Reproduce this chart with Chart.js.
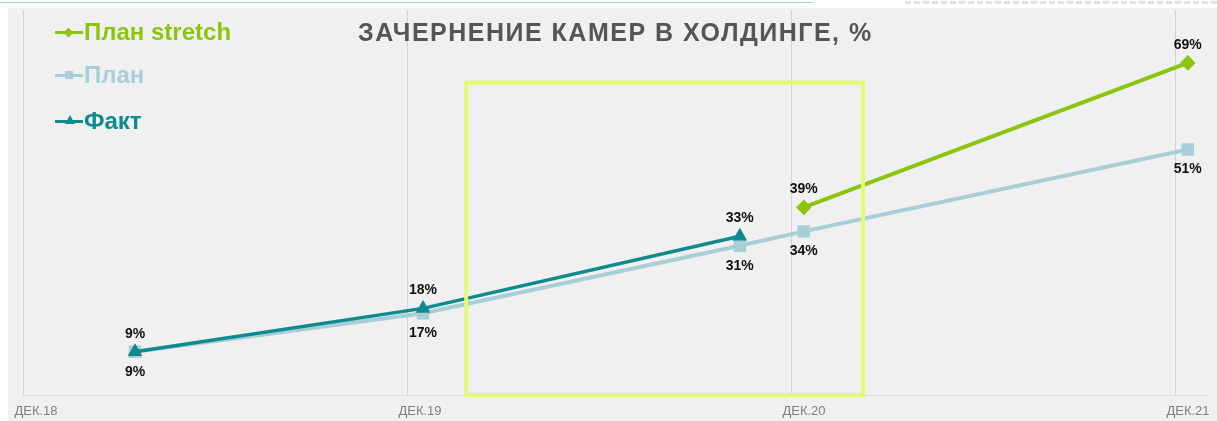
<!DOCTYPE html>
<html>
<head>
<meta charset="utf-8">
<script src="https://cdn.jsdelivr.net/npm/chart.js@4/dist/chart.umd.min.js"></script>
<style>
  html, body { margin: 0; padding: 0; background: #fff; }
  #wrap { position: relative; width: 1217px; height: 421px; overflow: hidden; font-family: "Liberation Sans", Arial, sans-serif; }
  #bg { position: absolute; left: 8px; top: 8px; right: 0; bottom: 0; background: #f0f0f0; }
  #topline { position: absolute; left: 0; top: 2px; width: 813px; height: 1px; background: #9fd2d6; }
  #topdash { position: absolute; left: 905px; top: 1px; width: 312px; height: 0; border-top: 3px dashed #e2e2e2; }
  canvas { position: absolute; left: 0; top: 0; }
  #title { position: absolute; left: 358px; top: 18px; font-weight: bold; font-size: 25px; letter-spacing: 1.5px; color: #555; white-space: nowrap; }
  .item { position: absolute; left: 55px; height: 30px; display: flex; align-items: center; font-weight: bold; font-size: 24px; white-space: nowrap; }
  .sw { position: relative; width: 28px; height: 3px; margin-right: 1px; }
  .sw i { position: absolute; left: 10px; top: -3px; width: 8px; height: 8px; }
</style>
</head>
<body>
<div id="wrap">
  <div id="bg"></div>
  <div id="topline"></div>
  <div id="topdash"></div>
  <canvas id="lineChart" width="1217" height="421"></canvas>
  <div id="title">ЗАЧЕРНЕНИЕ КАМЕР В ХОЛДИНГЕ, %</div>
  <div id="legend"></div>
</div>
<script>
// months counted from Dec 2018
let tickMonths = [0, 12, 24, 36];
let tickLabels = ["ДЕК.18", "ДЕК.19", "ДЕК.20", "ДЕК.21"];

let stretchMonths = [24.4, 36.4];
let stretchValues = [39, 69];
let planMonths = [3.5, 12.5, 22.4, 24.4, 36.4];
let planValues = [9, 17, 31, 34, 51];
let factMonths = [3.5, 12.5, 22.4];
let factValues = [9, 18, 33];

let seriesNames = ["План stretch", "План", "Факт"];
let seriesColors = ["#8cc511", "#a8cfd7", "#0f8a8f"];

function toPoints(xs, ys) {
    return xs.map(function (x, i) {
        return { x: x, y: ys[i] };
    });
}

//legend in the top left corner
let legend = document.getElementById('legend');
let legendTops = [17, 60, 106];
let markerCss = [
    "transform: rotate(45deg); width:7px; height:7px; top:-2px;",
    "",
    "width:0; height:0; top:-5px; border-left:5px solid transparent; border-right:5px solid transparent; border-bottom:9px solid " + seriesColors[2] + "; background:none;"
];
seriesNames.forEach(function (name, i) {
    let div = document.createElement('div');
    div.className = 'item';
    div.style.top = legendTops[i] + 'px';
    div.style.color = seriesColors[i];
    div.innerHTML = '<span class="sw" style="background:' + seriesColors[i] + '"><i style="background:' +
        seriesColors[i] + ';' + markerCss[i] + '"></i></span>' + name;
    legend.appendChild(div);
});

//percent labels next to the points
const pointLabels = {
    id: 'pointLabels',
    afterDatasetsDraw(chart) {
        const c = chart.ctx;
        c.save();
        c.font = 'bold 14px "Liberation Sans", Arial, sans-serif';
        c.fillStyle = '#111';
        c.textAlign = 'center';
        c.textBaseline = 'middle';
        chart.data.datasets.forEach(function (ds, i) {
            const meta = chart.getDatasetMeta(i);
            meta.data.forEach(function (pt, j) {
                const dy = ds.labelSide === 'below' ? 20 : -18;
                c.fillText(ds.data[j].y + '%', pt.x, pt.y + dy);
            });
        });
        c.restore();
    }
};

//highlighted period frame
const frame = {
    id: 'frame',
    afterDatasetsDraw(chart, args, opts) {
        const xs = chart.scales.x, ys = chart.scales.y;
        const c = chart.ctx;
        c.save();
        c.strokeStyle = opts.color;
        c.lineWidth = 4;
        const l = xs.getPixelForValue(opts.xMin), r = xs.getPixelForValue(opts.xMax);
        const t = ys.getPixelForValue(opts.yMax), b = ys.getPixelForValue(opts.yMin);
        c.strokeRect(l, t, r - l, b - t);
        c.restore();
    }
};

let ctx = document.getElementById('lineChart').getContext('2d');

let data = {
    datasets: [
        {
            label: seriesNames[2],
            data: toPoints(factMonths, factValues),
            borderColor: seriesColors[2],
            backgroundColor: seriesColors[2],
            borderWidth: 3.5,
            pointStyle: 'triangle',
            pointRadius: 5,
            labelSide: 'above',
            order: 1
        },
        {
            label: seriesNames[0],
            data: toPoints(stretchMonths, stretchValues),
            borderColor: seriesColors[0],
            backgroundColor: seriesColors[0],
            borderWidth: 4,
            pointStyle: 'rectRot',
            pointRadius: 5,
            labelSide: 'above',
            order: 2
        },
        {
            label: seriesNames[1],
            data: toPoints(planMonths, planValues),
            borderColor: seriesColors[1],
            backgroundColor: seriesColors[1],
            borderWidth: 4,
            pointStyle: 'rect',
            pointRadius: 6,
            labelSide: 'below',
            order: 3
        }
    ]
};

let options = {
    responsive: false,
    animation: { duration: 0 },
    layout: { padding: { left: 23, right: 9, top: 8, bottom: 0 } },
    plugins: {
        legend: { display: false },
        tooltip: { enabled: false },
        frame: { xMin: 13.85, xMax: 26.25, yMin: 0, yMax: 64.9, color: '#e3fb72' }
    },
    scales: {
        x: {
            type: 'linear',
            min: 0,
            max: 37,
            afterBuildTicks: function (scale) {
                scale.ticks = tickMonths.map(function (v) { return { value: v }; });
            },
            afterFit: function (scale) {
                scale.paddingLeft = 0;
                scale.paddingRight = 0;
                scale.height = 26;
            },
            ticks: {
                autoSkip: false,
                maxRotation: 0,
                padding: 9,
                labelOffset: 13,
                color: '#808080',
                font: { family: '"Liberation Sans", Arial, sans-serif', size: 13 },
                callback: function (value) {
                    return tickLabels[tickMonths.indexOf(value)];
                }
            },
            grid: { color: '#d3d3d3', drawTicks: false, tickLength: 0 },
            border: { color: '#dcdcdc' }
        },
        y: {
            display: false,
            min: 0,
            max: 80
        }
    }
};

let chart = new Chart(ctx, {
    type: 'line',
    data: data,
    options: options,
    plugins: [pointLabels, frame]
});
</script>
</body>
</html>
